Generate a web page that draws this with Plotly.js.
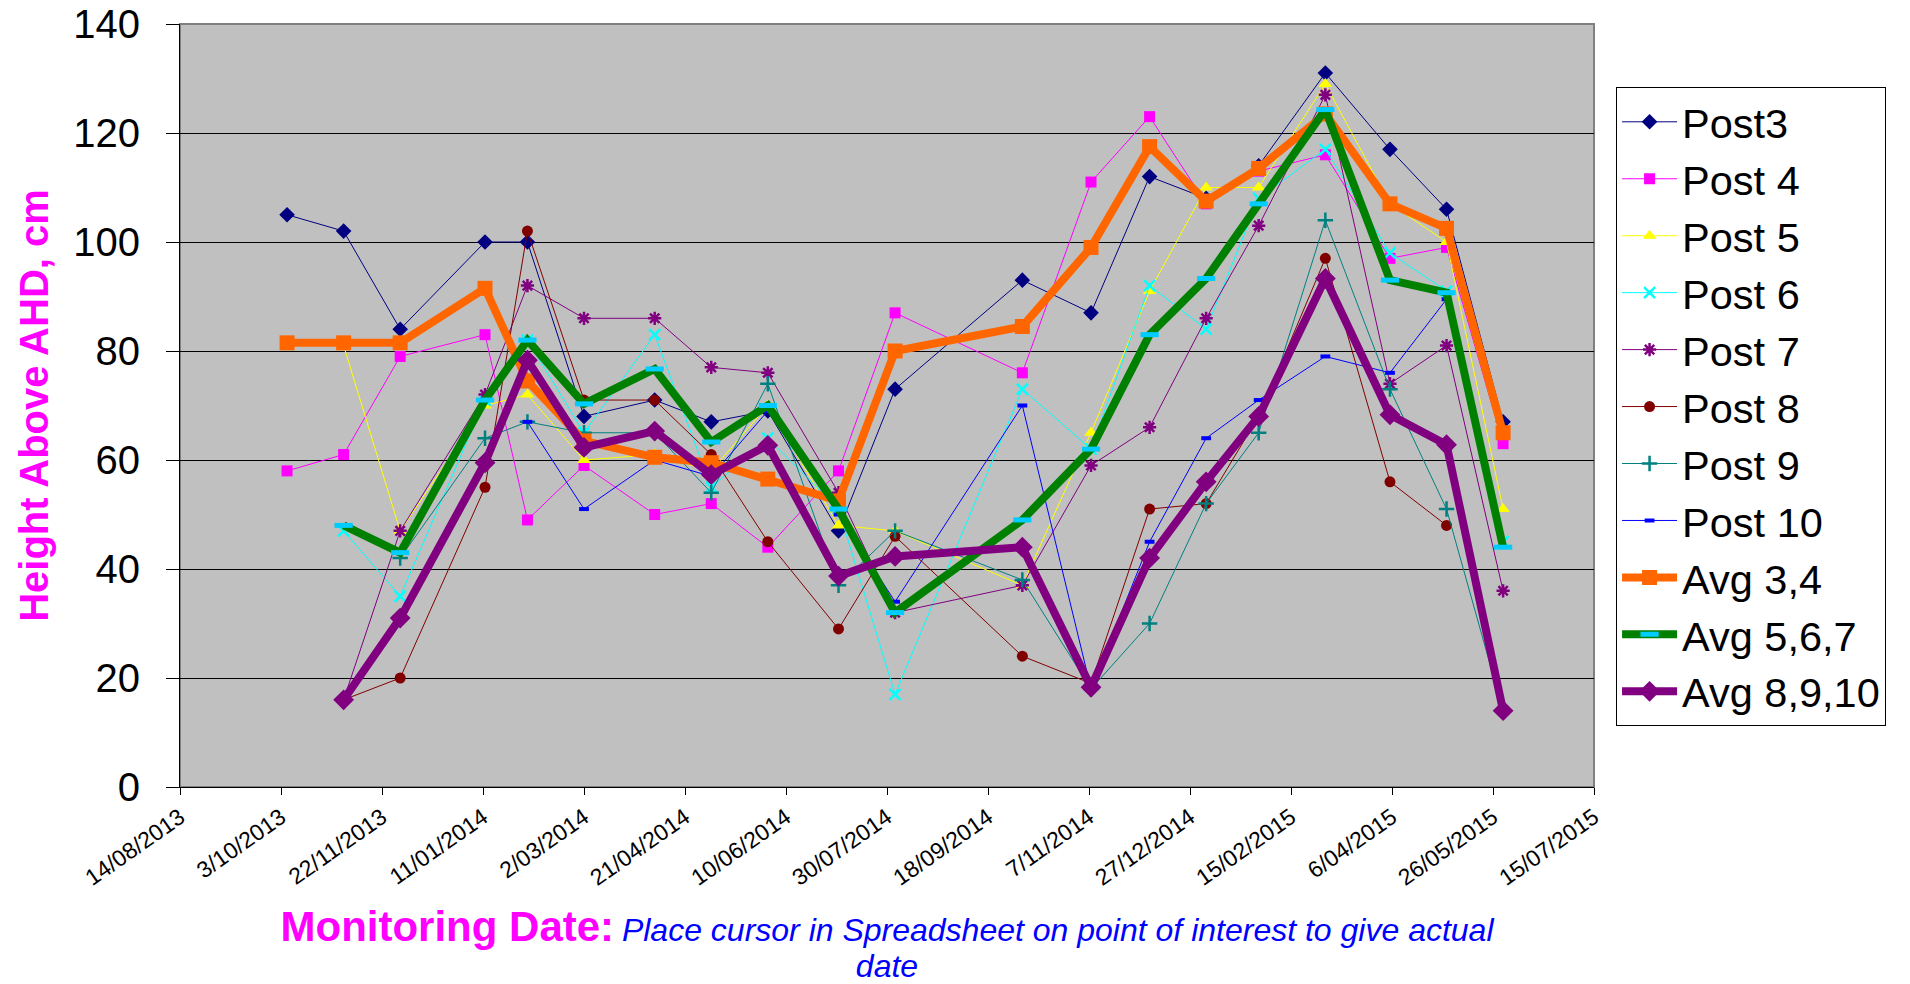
<!DOCTYPE html>
<html>
<head>
<meta charset="utf-8">
<script src="https://cdn.plot.ly/plotly-3.0.1.min.js"></script>
<style>
  html, body { margin: 0; padding: 0; background: #ffffff; }
  #chart { width: 1910px; height: 984px; }
</style>
</head>
<body>
<div id="chart"></div>
<script>
// Monitoring dates (dd/mm/yyyy shown on axis)
const dates = ['2013-10-06','2013-11-03','2013-12-01','2014-01-12','2014-02-02','2014-03-02','2014-04-06','2014-05-04','2014-06-01','2014-07-06','2014-08-03','2014-10-05','2014-11-08','2014-12-07','2015-01-04','2015-01-30','2015-03-04','2015-04-05','2015-05-03','2015-05-31'];

// Heights above AHD, cm
const post3  = [105,102,84,100,100,68,71,67,69,47,73,93,87,112,108,114,131,117,106,67];
const post4  = [58,61,79,83,49,59,50,52,44,58,87,76,111,123,107,113,116,97,99,63];
const post5  = [null,81,47,70,72,60,61,58,70,48,47,37,65,91,110,110,129,107,100,51];
const post6  = [null,47,35,71,82,65,83,55,64,51,17,73,62,92,84,108,117,98,91,45];
const post7  = [null,16,47,72,92,86,86,77,76,54,32,37,59,66,86,103,127,74,81,36];
const post8  = [null,16,20,55,102,71,71,61,45,29,46,24,19,51,52,68,97,56,48,null];
const post9  = [null,null,42,64,67,65,65,54,74,37,47,38,18,30,52,65,104,73,51,14];
const post10 = [null,null,null,null,67,51,60,57,69,50,34,70,18,45,64,71,79,76,89.5,null];
const avg34   = [81.5,81.5,81.5,91.5,74.5,63.5,60.5,59.5,56.5,52.5,80,84.5,99,117.5,107.5,113.5,123.5,107,102.5,65];
const avg567  = [null,48,43,71,82,70.3,76.7,63.3,70,51,32,49,62,83,93.3,107,124.3,93,90.7,44];
const avg8910 = [null,16,31,59.5,78.3,62.3,65.3,57.3,62.7,38.7,42.3,44,18.3,42,56,68,93.3,68.3,62.8,14];

// Axis settings
const xStart = '2013-08-14';
const xEnd = '2015-07-15';
const tickStepDays = 50;
const yMax = 140;
const yStep = 20;

const seriesNames = ['Post3','Post 4','Post 5','Post 6','Post 7','Post 8','Post 9','Post 10','Avg 3,4','Avg 5,6,7','Avg 8,9,10'];
const seriesData = [post3, post4, post5, post6, post7, post8, post9, post10, avg34, avg567, avg8910];

const styles = [
  {line:{color:'#000080', width:1}, marker:{symbol:'diamond', size:12, color:'#000080'}},
  {line:{color:'#FF00FF', width:1}, marker:{symbol:'square', size:11, color:'#FF00FF'}},
  {line:{color:'#FFFF00', width:1}, marker:{symbol:'triangle-up', size:12, color:'#FFFF00'}},
  {line:{color:'#00FFFF', width:1}, marker:{symbol:'x-thin', size:11, color:'#00FFFF', line:{color:'#00FFFF', width:2.5}}},
  {line:{color:'#800080', width:1}, marker:{symbol:'asterisk', size:11, color:'#800080', line:{color:'#800080', width:2.5}}},
  {line:{color:'#800000', width:1}, marker:{symbol:'circle', size:11, color:'#800000'}},
  {line:{color:'#008080', width:1}, marker:{symbol:'cross-thin', size:11, color:'#008080', line:{color:'#008080', width:2.5}}},
  {line:{color:'#0000FF', width:1}, marker:{symbol:'line-ew', size:7, color:'#0000FF', line:{color:'#0000FF', width:4}}},
  {line:{color:'#FF6600', width:8}, marker:{symbol:'square', size:15, color:'#FF6600'}},
  {line:{color:'#008000', width:8}, marker:{symbol:'line-ew', size:13, color:'#00CCFF', line:{color:'#00CCFF', width:5}}},
  {line:{color:'#800080', width:8}, marker:{symbol:'diamond', size:16, color:'#800080'}}
];

const traces = seriesNames.map((name, i) => ({
  type: 'scatter',
  mode: 'lines+markers',
  name: name,
  x: dates,
  y: seriesData[i],
  line: styles[i].line,
  marker: styles[i].marker,
  connectgaps: false
}));

const FONT = 'Liberation Sans, Arial, Helvetica, sans-serif';

const layout = {
  width: 1910,
  height: 984,
  paper_bgcolor: '#ffffff',
  plot_bgcolor: '#C0C0C0',
  margin: {l: 180, r: 316, t: 24, b: 197, autoexpand: false},
  font: {family: FONT, color: '#000000'},
  showlegend: true,
  legend: {
    x: 1.0156, xanchor: 'left',
    y: 0.917, yanchor: 'top',
    bgcolor: '#ffffff',
    bordercolor: '#000000',
    borderwidth: 1,
    font: {family: FONT, size: 41.5, color: '#000000'},
    itemwidth: 55,
    tracegroupgap: 0
  },
  xaxis: {
    type: 'date',
    range: [xStart, xEnd],
    tick0: xStart,
    dtick: tickStepDays * 86400000,
    tickformat: '%-d/%m/%Y',
    tickangle: -35,
    tickfont: {family: FONT, size: 23, color: '#000000'},
    ticks: 'outside',
    ticklen: 7,
    tickcolor: '#000000',
    showgrid: false,
    zeroline: false,
    showline: true,
    linecolor: '#000000',
    linewidth: 1,
    automargin: false,
    title: {
      text: '<span style="font-size:42px;color:#FF00FF"><b>Monitoring Date:</b></span> <span style="font-size:32px;color:#0000FF"><i>Place cursor in Spreadsheet on point of interest to give actual</i></span><br><span style="font-size:32px;color:#0000FF"><i>date</i></span>',
      font: {family: FONT, size: 28, color: '#0000FF'},
      standoff: 48
    }
  },
  yaxis: {
    range: [0, yMax],
    dtick: yStep,
    tick0: 0,
    tickfont: {family: FONT, size: 40, color: '#000000'},
    ticks: 'outside',
    ticklen: 13,
    tickcolor: '#000000',
    ticklabelstandoff: 18,
    showgrid: true,
    gridcolor: '#000000',
    gridwidth: 1,
    zeroline: false,
    showline: true,
    linecolor: '#000000',
    linewidth: 1,
    automargin: false,
    title: {
      text: '<b>Height Above AHD, cm</b>',
      font: {family: FONT, size: 40, color: '#FF00FF'},
      standoff: 12
    }
  },
  shapes: [{
    type: 'rect', xref: 'paper', yref: 'paper',
    x0: 0, x1: 1, y0: 0, y1: 1,
    line: {color: '#808080', width: 2},
    layer: 'below'
  }]
};

Plotly.newPlot('chart', traces, layout, {displayModeBar: false, staticPlot: true});
</script>
</body>
</html>
